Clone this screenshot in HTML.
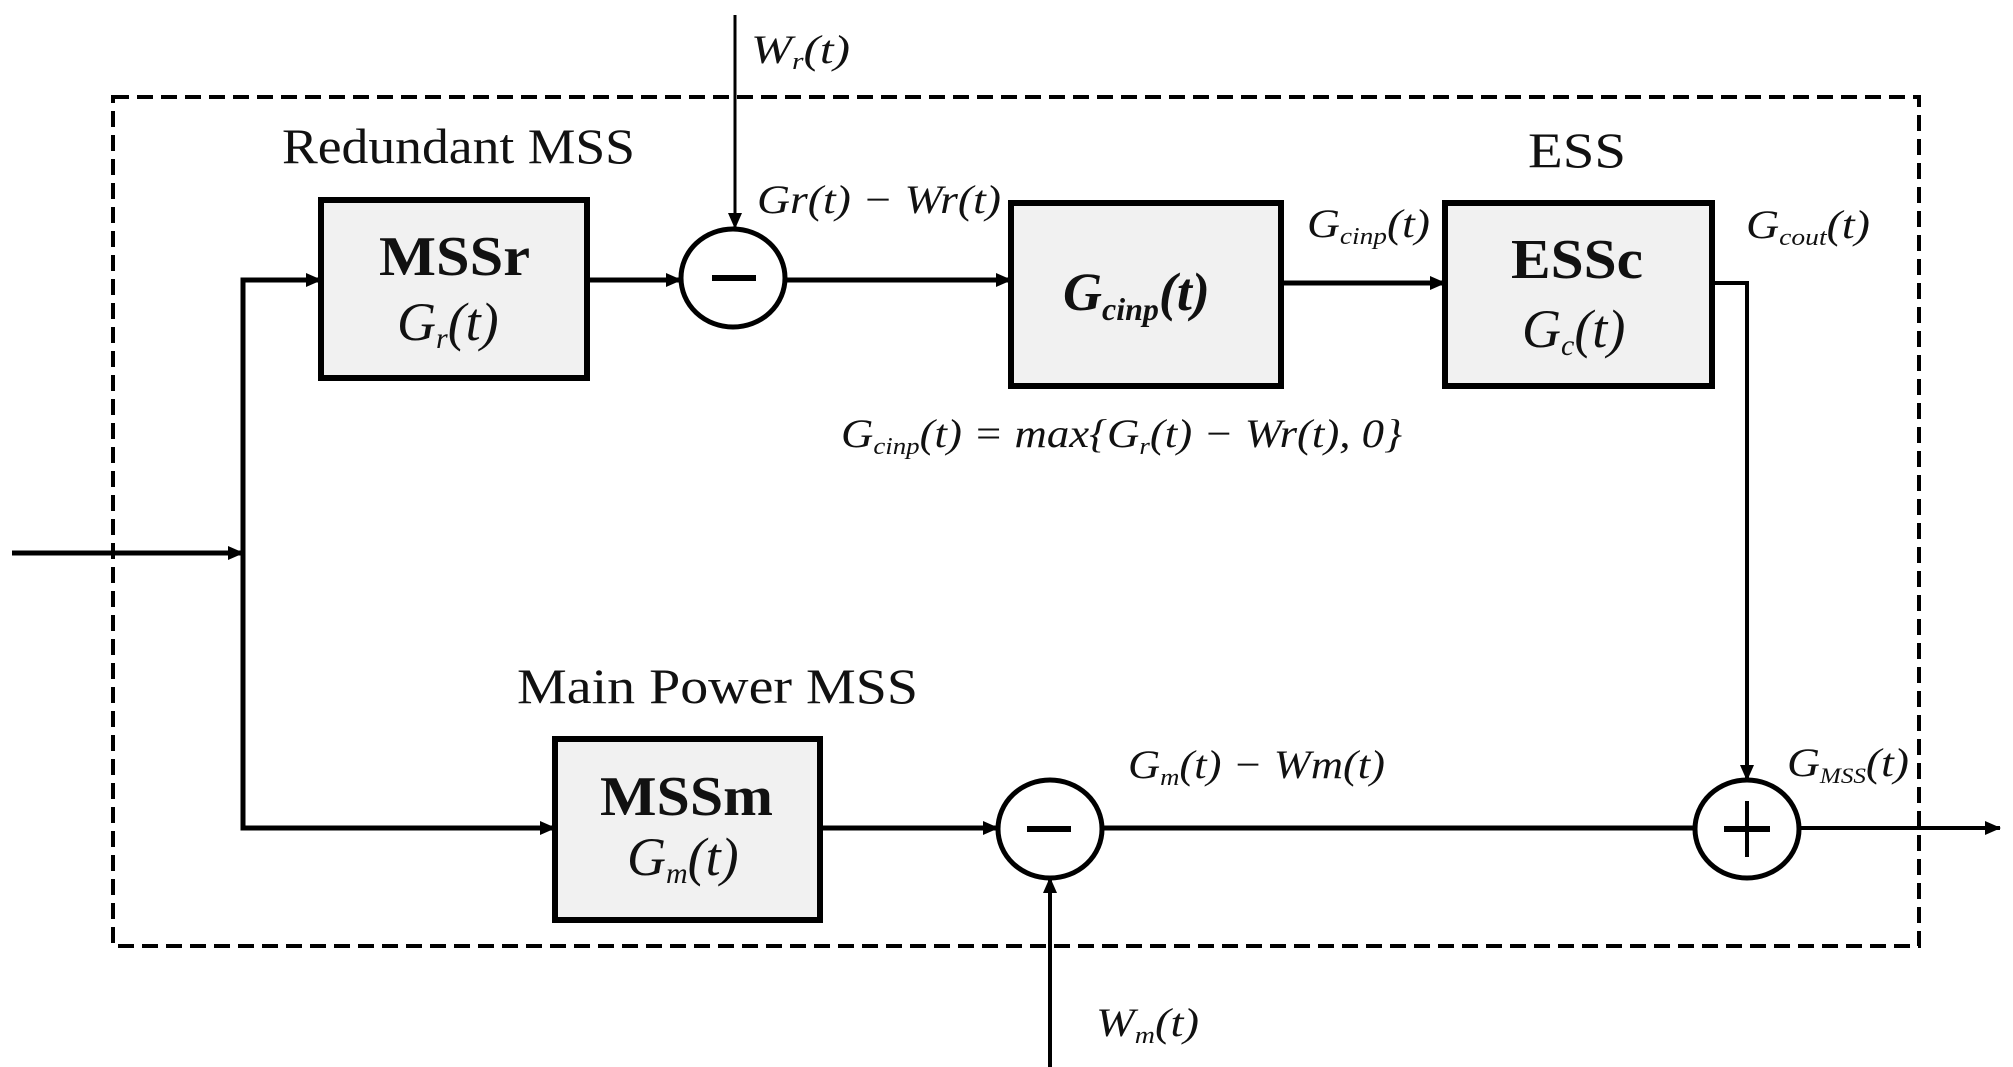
<!DOCTYPE html>
<html><head><meta charset="utf-8"><style>
html,body{margin:0;padding:0;background:#fff;width:2013px;height:1067px;overflow:hidden}
svg{display:block}
text{font-family:"Liberation Serif",serif;fill:#111}
.lab{font-style:italic;font-size:40px}
.ttl{font-size:50px}
.bb{font-weight:bold;font-size:56px}
.it{font-style:italic;font-size:54px}
</style></head><body>
<svg width="2013" height="1067" viewBox="0 0 2013 1067" xmlns="http://www.w3.org/2000/svg">
<defs>
<marker id="b" markerWidth="16" markerHeight="14" refX="15" refY="7" orient="auto" markerUnits="userSpaceOnUse"><path d="M0,0 L16,7 L0,14 z" fill="#000"/></marker></defs>
<rect x="113" y="97" width="1806" height="849" fill="none" stroke="#000" stroke-width="4" stroke-dasharray="16,8"/>
<g stroke="#000" stroke-width="5" fill="none">
<line x1="12" y1="553" x2="243" y2="553" marker-end="url(#b)"/>
<polyline points="321,280 243,280 243,828 555,828"/>
<line x1="243" y1="280" x2="321" y2="280" marker-end="url(#b)"/>
<line x1="243" y1="828" x2="555" y2="828" marker-end="url(#b)"/>
<line x1="587" y1="280" x2="681" y2="280" marker-end="url(#b)"/>
<line x1="786" y1="280" x2="1011" y2="280" marker-end="url(#b)"/>
<line x1="1281" y1="283" x2="1445" y2="283" marker-end="url(#b)"/>
<polyline points="1712,283 1747,283 1747,780" stroke-width="4"/>
<line x1="1747" y1="700" x2="1747" y2="780" marker-end="url(#b)" stroke-width="4"/>
<line x1="820" y1="828" x2="998" y2="828" marker-end="url(#b)"/>
<line x1="1103" y1="828" x2="1694" y2="828"/>
<line x1="1800" y1="828" x2="2000" y2="828" marker-end="url(#b)" stroke-width="4"/>
<line x1="735" y1="15" x2="735" y2="228" marker-end="url(#b)" stroke-width="3"/>
<line x1="1050" y1="1067" x2="1050" y2="878" marker-end="url(#b)" stroke-width="4"/>
</g>
<g fill="#f1f1f1" stroke="#000" stroke-width="6">
<rect x="321" y="200" width="266" height="178"/>
<rect x="1011" y="203" width="270" height="183"/>
<rect x="1445" y="203" width="267" height="183"/>
<rect x="555" y="739" width="265" height="181"/>
</g>
<g fill="#fff" stroke="#000" stroke-width="5">
<ellipse cx="733" cy="278" rx="52" ry="49"/>
<ellipse cx="1050" cy="829" rx="52" ry="49"/>
<ellipse cx="1747" cy="829" rx="52" ry="49"/>
</g>
<g stroke="#000" stroke-width="6">
<line x1="712" y1="278" x2="756" y2="278"/>
<line x1="1027" y1="829" x2="1071" y2="829"/>
<line x1="1724" y1="829" x2="1770" y2="829"/>
<line x1="1747" y1="801" x2="1747" y2="857" stroke-width="4"/>
</g>
<text class="ttl" x="282" y="163" textLength="353" lengthAdjust="spacingAndGlyphs">Redundant MSS</text>
<text class="ttl" x="1528" y="167" textLength="98" lengthAdjust="spacingAndGlyphs">ESS</text>
<text class="ttl" x="517" y="703" textLength="401" lengthAdjust="spacingAndGlyphs">Main Power MSS</text>
<text class="bb" x="379" y="275" textLength="151" lengthAdjust="spacingAndGlyphs">MSSr</text>
<text class="it" x="397" y="340">G<tspan font-size="30" dy="8">r</tspan><tspan dy="-8">(t)</tspan></text>
<text class="it" x="1063" y="310" font-weight="bold">G<tspan font-size="32" dy="10">cinp</tspan><tspan dy="-10">(t)</tspan></text>
<text class="bb" x="1511" y="278" textLength="132" lengthAdjust="spacingAndGlyphs">ESSc</text>
<text class="it" x="1522" y="347">G<tspan font-size="30" dy="8">c</tspan><tspan dy="-8">(t)</tspan></text>
<text class="bb" x="600" y="815" textLength="173" lengthAdjust="spacingAndGlyphs">MSSm</text>
<text class="it" x="627" y="875">G<tspan font-size="30" dy="8">m</tspan><tspan dy="-8">(t)</tspan></text>
<text class="lab" x="751" y="63" textLength="99" lengthAdjust="spacingAndGlyphs">W<tspan font-size="24" dy="6">r</tspan><tspan dy="-6">(t)</tspan></text>
<text class="lab" x="757" y="213" textLength="244" lengthAdjust="spacingAndGlyphs">Gr(t) − Wr(t)</text>
<text class="lab" x="1307" y="237" textLength="123" lengthAdjust="spacingAndGlyphs">G<tspan font-size="24" dy="7">cinp</tspan><tspan dy="-7">(t)</tspan></text>
<text class="lab" x="1746" y="238" textLength="124" lengthAdjust="spacingAndGlyphs">G<tspan font-size="24" dy="7">cout</tspan><tspan dy="-7">(t)</tspan></text>
<text class="lab" x="841" y="447" textLength="561" lengthAdjust="spacingAndGlyphs" font-style="normal">G<tspan font-size="24" dy="7" font-style="italic">cinp</tspan><tspan dy="-7" font-style="italic">(t) = max{G</tspan><tspan font-size="24" dy="7" font-style="italic">r</tspan><tspan dy="-7" font-style="italic">(t) − Wr(t), 0}</tspan></text>
<text class="lab" x="1128" y="778" textLength="257" lengthAdjust="spacingAndGlyphs">G<tspan font-size="24" dy="7">m</tspan><tspan dy="-7">(t) − Wm(t)</tspan></text>
<text class="lab" x="1787" y="776" textLength="122" lengthAdjust="spacingAndGlyphs">G<tspan font-size="22" dy="7">MSS</tspan><tspan dy="-7">(t)</tspan></text>
<text class="lab" x="1096" y="1036" textLength="103" lengthAdjust="spacingAndGlyphs">W<tspan font-size="24" dy="7">m</tspan><tspan dy="-7">(t)</tspan></text>
</svg>
</body></html>
